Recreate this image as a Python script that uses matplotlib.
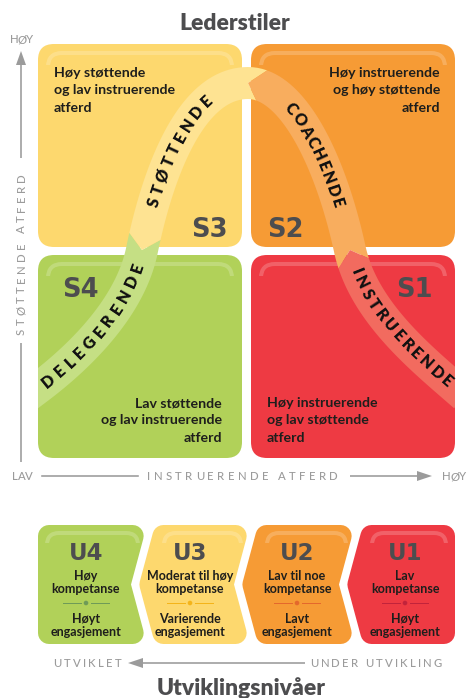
import numpy as np
import matplotlib
matplotlib.use('Agg')
import matplotlib.pyplot as plt
from matplotlib.patches import FancyBboxPatch, Polygon, Rectangle, Circle
from matplotlib.bezier import BezierSegment
from matplotlib.font_manager import FontProperties
from matplotlib.textpath import text_to_path, TextPath

plt.rcParams['font.family'] = ['Lato', 'DejaVu Sans']

# ---- text content ----
title_top = 'Lederstiler'
title_bottom = 'Utviklingsnivåer'
style_codes = ['S3', 'S2', 'S4', 'S1']
style_lines = [
    ['Høy støttende', 'og lav instruerende', 'atferd'],
    ['Høy instruerende', 'og høy støttende', 'atferd'],
    ['Lav støttende', 'og lav instruerende', 'atferd'],
    ['Høy instruerende', 'og lav støttende', 'atferd'],
]
style_colors = ['#FDD86E', '#F69B35', '#B1D159', '#EE3A43']
band_words = ['DELEGERENDE', 'STØTTENDE', 'COACHENDE', 'INSTRUERENDE']
band_colors = ['#C5DF84', '#FEE392', '#F8AD5E', '#F26B5F']
level_codes = ['U4', 'U3', 'U2', 'U1']
level_competence = [['Høy', 'kompetanse'], ['Moderat til høy', 'kompetanse'],
                    ['Lav til noe', 'kompetanse'], ['Lav', 'kompetanse']]
level_engagement = [['Høyt', 'engasjement'], ['Varierende', 'engasjement'],
                    ['Lavt', 'engasjement'], ['Høyt', 'engasjement']]
level_colors = ['#B1D159', '#FDD86E', '#F69B35', '#EE3A43']
level_rule_colors = ['#6F9B57', '#F4B41A', '#E4682C', '#C2233B']
y_axis_words = ['HØY', 'STØTTENDE ATFERD']
x_axis_words = ['LAV', 'INSTRUERENDE ATFERD', 'HØY']
dev_axis_words = ['UTVIKLET', 'UNDER UTVIKLING']

# ---- layout ----
W, H = 467, 698
PX = 72 / 100
GRAY = '#9B9B9B'
DARK = '#4D4D4F'
INK = '#1E1E1C'

fig = plt.figure(figsize=(W / 100, H / 100), dpi=100)
ax = fig.add_axes([0, 0, 1, 1])
ax.set_xlim(0, W)
ax.set_ylim(H, 0)
ax.axis('off')

fam = ['Lato', 'DejaVu Sans']
f_title = FontProperties(family=fam, weight='heavy', size=16.5)
f_body = FontProperties(family=fam, weight='bold', size=10.2)
f_small = FontProperties(family=fam, weight='bold', size=9)
f_band = FontProperties(family=fam, weight='heavy', size=11.5)
f_axis = FontProperties(family=fam, weight='medium', size=8.2)
f_code = FontProperties(family='DejaVu Sans', weight='bold', size=18.5)
f_code2 = FontProperties(family='DejaVu Sans', weight='bold', size=16.5)


def cap_px(fp):
    return TextPath((0, 0), 'H', prop=fp).get_extents().height / PX


def char_widths(text, fp):
    out = []
    for ch in text:
        if ch == ' ':
            out.append(fp.get_size_in_points() / PX * 0.3)
        else:
            w, h, d = text_to_path.get_text_width_height_descent(ch, fp, ismath=False)
            out.append(w / PX)
    return np.array(out)


def spread(widths, c_first, c_last):
    pair = (widths[:-1] + widths[1:]) / 2
    gap = (c_last - c_first - pair.sum()) / (len(widths) - 1)
    return c_first + np.concatenate([[0], np.cumsum(pair + gap)])


def draw_chars(xs, ys, angles, text, fp, color, z=6):
    cap = cap_px(fp)
    for x, y, a, ch in zip(xs, ys, angles, text):
        if ch == ' ':
            continue
        r = np.radians(a)
        ax.text(x + np.sin(r) * cap / 2, y + np.cos(r) * cap / 2, ch, rotation=a,
                rotation_mode='anchor', ha='center', va='baseline',
                fontproperties=fp, color=color, zorder=z)


def spaced_h(text, x0, x1, y, fp, color=GRAY):
    w = char_widths(text, fp)
    xs = spread(w, x0 + w[0] / 2, x1 - w[-1] / 2)
    draw_chars(xs, np.full(len(xs), y), np.zeros(len(xs)), text, fp, color)


def spaced_v(text, y_bottom, y_top, x, fp, color=GRAY):
    w = char_widths(text, fp)
    u = spread(w, w[0] / 2, (y_bottom - y_top) - w[-1] / 2)
    draw_chars(np.full(len(u), x), y_bottom - u, np.full(len(u), 90.0), text, fp, color)


def gloss(x, y, w, clip_h, r=14):
    g = FancyBboxPatch((x, y), w, 90, boxstyle=f'round,pad=0,rounding_size={r}',
                       fill=False, ec='white', lw=4 * PX, alpha=0.2, zorder=2)
    ax.add_patch(g)
    g.set_clip_path(Rectangle((x - 6, y - 6), w + 12, clip_h, transform=ax.transData))


# ---- titles ----
ax.text(235, 30, title_top, ha='center', va='baseline', fontproperties=f_title, color=DARK)
ax.text(241, 695, title_bottom, ha='center', va='baseline', fontproperties=f_title, color=DARK)

# ---- four leadership style cards ----
cells = [(38, 44), (251, 44), (38, 255), (251, 255)]
CW, CH = 204, 203
for (x, y), col in zip(cells, style_colors):
    ax.add_patch(FancyBboxPatch((x, y), CW, CH, boxstyle='round,pad=0,rounding_size=16',
                                fc=col, ec='none', zorder=1))
    gloss(x + 10, y + 9, CW - 20, 18)

code_pos = [(228, 237, 'right'), (267, 237, 'left'), (62, 297, 'left'), (433, 297, 'right')]
for code, (x, y, ha) in zip(style_codes, code_pos):
    ax.text(x, y, code, ha=ha, va='baseline', fontproperties=f_code, color=DARK, zorder=7)

text_pos = [(54, 77, 'left'), (440, 77, 'right'), (222, 407, 'right'), (267, 407, 'left')]
for lines, (x, y, ha) in zip(style_lines, text_pos):
    for i, line in enumerate(lines):
        ax.text(x, y + i * 17.3, line, ha=ha, va='baseline', fontproperties=f_body,
                color=INK, zorder=7)

# ---- the curved band S4 <- S3 <- S2 <- S1 ----
curve_ctrl = [
    [(37, 389), (77, 359), (130, 309), (142, 250)],
    [(142, 250), (154, 191), (185, 83), (248, 83)],
    [(248, 83), (293, 83), (331, 162), (350, 250)],
    [(350, 250), (363, 309), (416, 354), (454, 387)],
]
tt = np.linspace(0, 1, 120)
pieces = [np.asarray(BezierSegment(np.array(c, float))(tt)) for c in curve_ctrl]
C = np.vstack([pieces[0]] + [p[1:] for p in pieces[1:]])
joints = [119 * k + 1 for k in range(1, 4)]
d0 = C[0] - C[1]
d0 /= np.hypot(*d0)
d1 = C[-1] - C[-2]
d1 /= np.hypot(*d1)
C = np.vstack([C[0] + 14 * d0, C, C[-1] + 14 * d1])
S = np.concatenate([[0], np.cumsum(np.hypot(*np.diff(C, axis=0).T))])
T = np.gradient(C, axis=0)
T /= np.hypot(T[:, 0], T[:, 1])[:, None]
N = np.stack([-T[:, 1], T[:, 0]], axis=1)
HALF, TIP = 16, 14


def at(s):
    s = np.atleast_1d(s)
    p = np.stack([np.interp(s, S, C[:, 0]), np.interp(s, S, C[:, 1])], 1)
    n = np.stack([np.interp(s, S, N[:, 0]), np.interp(s, S, N[:, 1])], 1)
    return p, n


def edge(s0, s1, side):
    p, n = at(np.linspace(s0, s1, 60))
    return p + side * HALF * n


clip = Rectangle((37.5, 0), 417, H, transform=ax.transData)
lims = [0.0] + [S[j] for j in joints] + [S[-1]]
for k in range(4):
    a, b = lims[k], lims[k + 1]
    lo = a + TIP if k > 0 else a
    hi = b + TIP if k < 3 else b
    ring = [edge(lo, hi, 1)]
    if k < 3:
        ring.append(at(b)[0])
    ring.append(edge(hi, lo, -1))
    if k > 0:
        ring.append(at(a)[0])
    poly = Polygon(np.vstack(ring), closed=True, fc=band_colors[k], ec='none', zorder=3)
    ax.add_patch(poly)
    poly.set_clip_path(clip)

band_text_ends = [((52, 385), (138, 268)), ((152, 202), (205, 100)),
                  ((298, 103), (342, 202)), ((357, 272), (443, 385))]


def s_near(pt):
    return S[np.argmin(np.hypot(C[:, 0] - pt[0], C[:, 1] - pt[1]))]


ang = np.degrees(np.arctan2(-T[:, 1], T[:, 0]))
for word, (p0, p1) in zip(band_words, band_text_ends):
    w = char_widths(word, f_band)
    ss = spread(w, s_near(p0), s_near(p1))
    p, _ = at(ss)
    draw_chars(p[:, 0], p[:, 1], np.interp(ss, S, ang), word, f_band, '#111111')

# ---- axes of the style grid ----
ax.plot([21, 21], [62, 158], color=GRAY, lw=1.6 * PX, solid_capstyle='butt')
ax.add_patch(Polygon([(21, 51), (16, 65), (26, 65)], closed=True, fc=GRAY, ec='none'))
ax.plot([21, 21], [343, 462], color=GRAY, lw=1.6 * PX, solid_capstyle='butt')
spaced_h(y_axis_words[0], 10, 33, 39, f_axis)
spaced_v(y_axis_words[1], 335, 173, 21, f_axis)

spaced_h(x_axis_words[0], 12, 33, 476, f_axis)
ax.plot([42, 138], [476, 476], color=GRAY, lw=1.6 * PX)
spaced_h(x_axis_words[1], 147, 338, 476, f_axis)
ax.plot([350, 420], [476, 476], color=GRAY, lw=1.6 * PX, solid_capstyle='butt')
ax.add_patch(Polygon([(432, 476), (417, 471), (417, 481)], closed=True, fc=GRAY, ec='none'))
spaced_h(x_axis_words[2], 442, 466, 476, f_axis)

# ---- development level chevrons ----
TOP, BOT, D = 525, 644, 16
MID = (TOP + BOT) / 2
chev = [(38, 147, False, True), (155, 250, True, True), (258, 355, True, True), (363, 455, True, False)]


def inset(poly, r):
    P = np.asarray(poly, float)
    n = len(P)
    area = 0.5 * np.sum(P[:, 0] * np.roll(P[:, 1], -1) - np.roll(P[:, 0], -1) * P[:, 1])
    sgn = 1 if area > 0 else -1
    lines = []
    for i in range(n):
        a, b = P[i], P[(i + 1) % n]
        d = (b - a) / np.linalg.norm(b - a)
        lines.append((a + sgn * np.array([-d[1], d[0]]) * r, d))
    out = []
    for i in range(n):
        (p1, d1), (p2, d2) = lines[i - 1], lines[i]
        t, _ = np.linalg.solve(np.array([d1, -d2]).T, p2 - p1)
        out.append(p1 + t * d1)
    return np.array(out)


level_x = [86, 190, 297, 405]
for k, (xl, xr, left_pt, right_notch) in enumerate(chev):
    verts = [(xl, TOP), (xr, TOP)]
    if right_notch:
        verts.append((xr - D, MID))
    verts += [(xr, BOT), (xl, BOT)]
    if left_pt:
        verts.append((xl - D, MID))
    R = 11
    ax.add_patch(Polygon(inset(verts, R), closed=True, fc=level_colors[k], ec=level_colors[k],
                         lw=2 * R * PX, joinstyle='round', zorder=1))
    gloss(xl + 9, TOP + 8, xr - xl - 18, 16, r=12)
    cx = level_x[k]
    ax.text(cx, 560, level_codes[k], ha='center', va='baseline', fontproperties=f_code2,
            color=DARK, zorder=7)
    for i, line in enumerate(level_competence[k]):
        ax.text(cx, 580 + i * 13, line, ha='center', va='baseline', fontproperties=f_small,
                color=INK, zorder=7)
    for i, line in enumerate(level_engagement[k]):
        ax.text(cx, 623 + i * 13, line, ha='center', va='baseline', fontproperties=f_small,
                color=INK, zorder=7)
    rc = level_rule_colors[k]
    ax.plot([cx - 23, cx - 5], [603, 603], color=rc, lw=1.0 * PX, zorder=6)
    ax.plot([cx + 5, cx + 23], [603, 603], color=rc, lw=1.0 * PX, zorder=6)
    ax.add_patch(Circle((cx, 603), 2.3, fc=rc, ec='none', zorder=6))

# ---- development axis ----
spaced_h(dev_axis_words[0], 53, 122, 663, f_axis)
ax.add_patch(Polygon([(128, 663), (143, 658), (143, 668)], closed=True, fc=GRAY, ec='none'))
ax.plot([142, 305], [663, 663], color=GRAY, lw=1.6 * PX, solid_capstyle='butt')
spaced_h(dev_axis_words[1], 310, 442, 663, f_axis)

fig.savefig('out.png', dpi=100)
